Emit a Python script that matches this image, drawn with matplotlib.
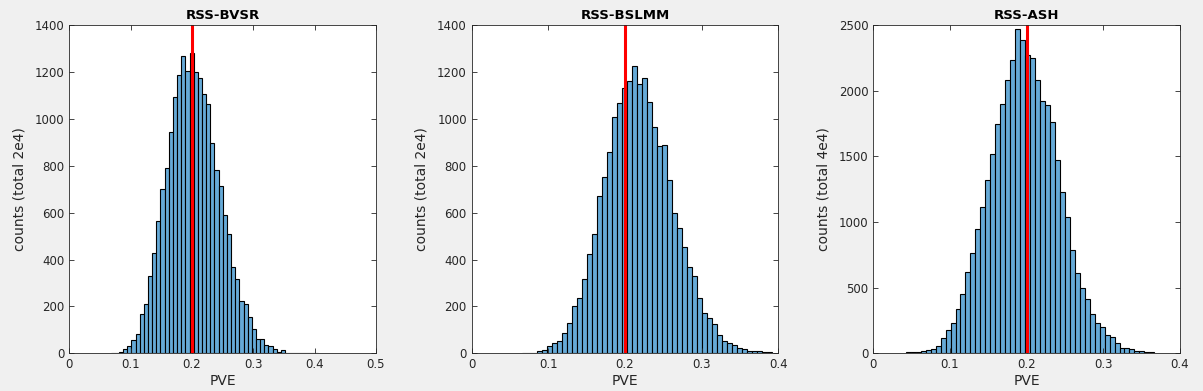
import matplotlib
matplotlib.use('Agg')
import matplotlib.pyplot as plt
import numpy as np
from matplotlib.ticker import FormatStrFormatter

plt.rcParams['font.family'] = ['DejaVu Sans']
plt.rcParams['font.size'] = 8

# histogram counts (50 bins between min and max PVE of each sample)
bvsr_counts = [2, 3, 4, 20, 30, 58, 84, 168, 210, 330,
               426, 564, 700, 789, 942, 1091, 1185, 1266, 1204, 1279,
               1198, 1173, 1104, 1062, 895, 780, 712, 588, 507, 368,
               317, 222, 210, 153, 105, 60, 63, 34, 30, 20,
               6, 16, 3, 2, 2, 2, 2, 2, 2, 3]
bvsr_range = (0.0674, 0.406)

bslmm_counts = [3, 3, 3, 9, 14, 31, 46, 51, 85, 128,
                200, 234, 316, 422, 507, 669, 750, 857, 1006, 1066,
                1130, 1161, 1224, 1150, 1173, 1070, 966, 884, 887, 738,
                600, 533, 452, 368, 328, 234, 170, 150, 126, 78,
                51, 43, 34, 21, 17, 10, 10, 10, 6, 6]
bslmm_range = (0.0661, 0.3913)

ash_counts = [8, 8, 8, 16, 24, 33, 58, 113, 174, 227,
              335, 449, 622, 761, 949, 1117, 1317, 1515, 1744, 1901,
              2084, 2231, 2467, 2383, 2269, 2246, 2079, 1919, 1888, 1759,
              1470, 1226, 1041, 784, 614, 495, 411, 300, 234, 202,
              143, 122, 80, 44, 37, 29, 14, 14, 8, 8]
ash_range = (0.0425, 0.3666)

titles = ['RSS-BVSR', 'RSS-BSLMM', 'RSS-ASH']
ylabels = ['counts (total 2e4)', 'counts (total 2e4)', 'counts (total 4e4)']
true_pve = 0.2

panels = [
    (bvsr_counts, bvsr_range, 0.5, 1400, 200),
    (bslmm_counts, bslmm_range, 0.4, 1400, 200),
    (ash_counts, ash_range, 0.4, 2500, 500),
]

bar_color = (0.4, 0.667, 0.845)
txt_color = '#262626'

fig = plt.figure(figsize=(12.03, 3.91), dpi=100)
fig.patch.set_facecolor('#f0f0f0')

lefts = [0.0576, 0.3921, 0.7259]
for i in range(3):
    counts, rng, xmax, ymax, ystep = panels[i]
    ax = fig.add_axes([lefts[i], 0.0964, 0.2549, 0.8397])
    edges = np.linspace(rng[0], rng[1], len(counts) + 1)
    ax.bar(edges[:-1], counts, width=edges[1] - edges[0], align='edge',
           color=bar_color, edgecolor='black', linewidth=0.8)
    ax.plot([true_pve, true_pve], [0, ymax], color='red', linewidth=2.2)
    ax.set_xlim(0, xmax)
    ax.set_ylim(0, ymax)
    ax.set_xticks(np.arange(0, xmax + 1e-9, 0.1))
    ax.set_yticks(np.arange(0, ymax + 1, ystep))
    ax.xaxis.set_major_formatter(FormatStrFormatter('%g'))
    ax.tick_params(direction='in', top=True, right=True, length=3.5,
                   width=0.6, colors=txt_color, labelsize=8.5)
    for s in ax.spines.values():
        s.set_color(txt_color)
        s.set_linewidth(0.6)
    ax.set_title(titles[i], fontsize=9.5, fontweight='bold', color='black', pad=4)
    ax.set_xlabel('PVE', fontsize=10, color=txt_color, labelpad=2)
    ax.set_ylabel(ylabels[i], fontsize=10, color=txt_color, labelpad=6)

plt.savefig('out.png', dpi=100, facecolor=fig.get_facecolor())
